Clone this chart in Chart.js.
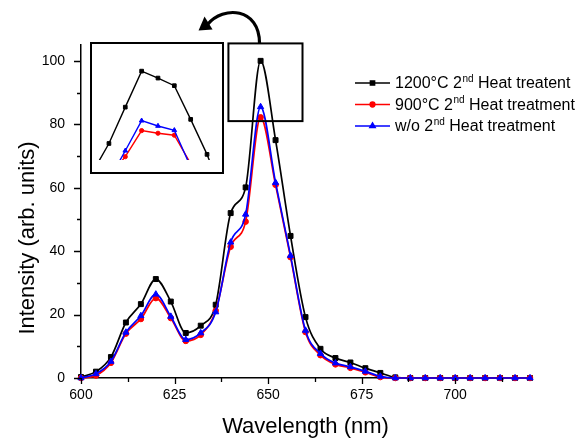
<!DOCTYPE html>
<html>
<head>
<meta charset="utf-8">
<script src="https://cdn.jsdelivr.net/npm/chart.js@4.4.1/dist/chart.umd.min.js"></script>
<style>
  html, body { margin: 0; padding: 0; background: #fff; }
  #wrap { position: relative; width: 576px; height: 439px; }
  #main { position: absolute; left: 0; top: 0; }
  #inset-box {
    position: absolute; left: 90px; top: 42px; width: 134px; height: 132px;
    border: 2px solid #000; box-sizing: border-box; background: #fff;
  }
  #inset { position: absolute; left: 0; top: 0; }
</style>
</head>
<body>
<div id="wrap">
  <canvas id="main" width="576" height="439"></canvas>
  <div id="inset-box"><canvas id="inset" width="130" height="121"></canvas></div>
</div>
<script>
// wavelengths (nm), one point every 4 nm
const wavelengths = [600, 604, 608, 612, 616, 620, 624, 628, 632, 636, 640, 644, 648, 652, 656,
                     660, 664, 668, 672, 676, 680, 684, 688, 692, 696, 700, 704, 708, 712, 716, 720];
const heat1200 = [0.3, 2.0, 6.6, 17.5, 23.3, 31.2, 24.1, 14.2, 16.5, 23.1, 52.0, 60.1, 100.0, 75.0, 44.8,
                  19.2, 9.2, 6.3, 4.9, 3.1, 1.6, 0.2, 0, 0, 0, 0, 0, 0, 0, 0, 0];
const heat900 = [0, 0.8, 4.8, 14.0, 18.6, 25.2, 18.9, 11.7, 13.6, 21.2, 41.4, 49.3, 82.2, 60.9, 38.1,
                 14.5, 7.2, 4.3, 3.2, 1.8, 0.3, 0, 0, 0, 0, 0, 0, 0, 0, 0, 0];
const noHeat = [0, 1.3, 5.2, 14.4, 19.6, 26.4, 19.4, 12.1, 14.2, 20.8, 42.8, 51.6, 85.5, 61.6, 38.6,
                15.0, 7.7, 4.7, 3.5, 2.1, 0.5, 0, 0, 0, 0, 0, 0, 0, 0, 0, 0];

// inset: magnified peak
const insetWavelengths = [644, 645, 646, 647, 648, 649, 650, 651, 652];
const inset1200 = [69.4, 78.1, 89.1, 100.0, 97.9, 95.6, 85.4, 74.8, 62.0];
const inset900 = [60.0, 68.0, 74.1, 82.0, 81.2, 80.6, 72.0, 61.0, 55.0];
const insetNoHeat = [58.0, 67.0, 75.9, 85.0, 83.4, 82.1, 71.0, 60.0, 54.0];

const xMajorTicks = [600, 625, 650, 675, 700];
const xMinorTicks = [612.5, 637.5, 662.5, 687.5, 712.5];
const yMajorTicks = [0, 20, 40, 60, 80, 100];
const yMinorTicks = [10, 30, 50, 70, 90];

const legendLabels = [
    ['1200\u00B0C 2', 'nd', ' Heat treatent'],
    ['900\u00B0C 2', 'nd', ' Heat treatment'],
    ['w/o 2', 'nd', ' Heat treatment']
];

// region of the main plot that the inset magnifies
const peakBox = { x0: 639.4, x1: 659.2, y0: 81, y1: 105.5 };

const FONT = '"Liberation Sans", Arial, sans-serif';

function pairs(xs, ys) {
    return xs.map((v, i) => ({ x: v, y: ys[i] }));
}

function seriesStyle(color, style, radius, width) {
    return {
        borderColor: color,
        backgroundColor: color,
        pointBackgroundColor: color,
        pointBorderColor: color,
        pointStyle: style,
        pointRadius: radius,
        pointBorderWidth: 1,
        borderWidth: width
    };
}

const decorations = {
    id: 'decorations',
    afterDraw(chart) {
        const { ctx, scales: { x, y }, chartArea } = chart;
        ctx.save();
        ctx.strokeStyle = '#000';
        ctx.fillStyle = '#000';

        // tick marks (outside the axes)
        ctx.lineWidth = 1.3;
        ctx.beginPath();
        xMajorTicks.concat(xMinorTicks).forEach(v => {
            const px = Math.round(x.getPixelForValue(v)) + 0.5;
            const len = xMajorTicks.includes(v) ? 6 : 4;
            ctx.moveTo(px, chartArea.bottom);
            ctx.lineTo(px, chartArea.bottom + len);
        });
        yMajorTicks.concat(yMinorTicks).forEach(v => {
            const py = Math.round(y.getPixelForValue(v)) + 0.5;
            const len = yMajorTicks.includes(v) ? 7 : 4;
            ctx.moveTo(chartArea.left, py);
            ctx.lineTo(chartArea.left - len, py);
        });
        ctx.stroke();

        // box around the peak
        const bx0 = x.getPixelForValue(peakBox.x0), bx1 = x.getPixelForValue(peakBox.x1);
        const by0 = y.getPixelForValue(peakBox.y1), by1 = y.getPixelForValue(peakBox.y0);
        ctx.lineWidth = 2;
        ctx.strokeRect(bx0, by0, bx1 - bx0, by1 - by0);

        // curved arrow pointing at the inset
        const fx = bx0 + (bx1 - bx0) * 0.42;
        ctx.lineWidth = 3.2;
        ctx.beginPath();
        ctx.moveTo(fx, by0);
        ctx.bezierCurveTo(fx, by0 - 36, fx - 36, by0 - 38, fx - 52, by0 - 19);
        ctx.stroke();
        ctx.beginPath();
        ctx.moveTo(fx - 61, by0 - 13);
        ctx.lineTo(fx - 55, by0 - 27);
        ctx.lineTo(fx - 47, by0 - 14);
        ctx.closePath();
        ctx.fill();

        // axis titles
        ctx.font = '22px ' + FONT;
        ctx.textAlign = 'center';
        ctx.textBaseline = 'middle';
        ctx.fillText('Wavelength (nm)', (chartArea.left + chartArea.right) / 2, 427);
        ctx.save();
        ctx.translate(28, 238);
        ctx.rotate(-Math.PI / 2);
        ctx.fillText('Intensity (arb. units)', 0, 0);
        ctx.restore();

        // legend with superscripts
        const rows = [83, 104.5, 126];
        [0, 1, 2].forEach((di, r) => {
            const ds = chart.data.datasets[di];
            const ly = rows[r];
            ctx.strokeStyle = ds.borderColor;
            ctx.fillStyle = ds.borderColor;
            ctx.lineWidth = 1.5;
            ctx.beginPath();
            ctx.moveTo(355, ly);
            ctx.lineTo(390, ly);
            ctx.stroke();
            Chart.helpers.drawPoint(ctx, {
                pointStyle: ds.pointStyle, radius: ds.pointRadius * 0.85, rotation: 0, borderWidth: 1
            }, 372.5, ly);
            const parts = legendLabels[di];
            ctx.fillStyle = '#000';
            ctx.textAlign = 'left';
            ctx.textBaseline = 'middle';
            let tx = 395;
            ctx.font = '16px ' + FONT;
            ctx.fillText(parts[0], tx, ly + 1);
            tx += ctx.measureText(parts[0]).width;
            ctx.font = '10px ' + FONT;
            ctx.fillText(parts[1], tx + 0.5, ly - 4);
            tx += ctx.measureText(parts[1]).width + 0.5;
            ctx.font = '16px ' + FONT;
            ctx.fillText(parts[2], tx, ly + 1);
        });
        ctx.restore();
    }
};

new Chart(document.getElementById('main').getContext('2d'), {
    type: 'line',
    data: {
        datasets: [
            Object.assign({ label: '1200C', data: pairs(wavelengths, heat1200), order: 2 },
                seriesStyle('#000000', 'rect', 3.5, 1.7)),
            Object.assign({ label: '900C', data: pairs(wavelengths, heat900), order: 1 },
                seriesStyle('#ff0000', 'circle', 2.8, 1.7)),
            Object.assign({ label: 'w/o', data: pairs(wavelengths, noHeat), order: 0 },
                seriesStyle('#0000ff', 'triangle', 3.6, 1.7))
        ]
    },
    options: {
        responsive: false,
        animation: false,
        clip: false,
        cubicInterpolationMode: 'monotone',
        layout: { padding: { top: 45, right: 46, left: 0, bottom: 0 } },
        plugins: { legend: { display: false }, tooltip: { enabled: false } },
        scales: {
            x: {
                type: 'linear',
                min: 600,
                max: 720,
                afterBuildTicks: s => { s.ticks = xMajorTicks.map(v => ({ value: v })); },
                afterFit: s => { s.height = 61; },
                grid: { display: false, drawTicks: true, tickLength: 6 },
                border: { display: true, color: '#000', width: 1.5 },
                ticks: { color: '#000', padding: 3, maxRotation: 0, font: { size: 14, family: FONT } }
            },
            y: {
                min: 0,
                max: 105,
                afterBuildTicks: s => { s.ticks = yMajorTicks.map(v => ({ value: v })); },
                afterFit: s => { s.width = 81; },
                grid: { display: false, drawTicks: true, tickLength: 7 },
                border: { display: true, color: '#000', width: 1.5 },
                ticks: { color: '#000', padding: 9, font: { size: 14, family: FONT } }
            }
        }
    },
    plugins: [decorations]
});

new Chart(document.getElementById('inset').getContext('2d'), {
    type: 'line',
    data: {
        datasets: [
            Object.assign({ data: pairs(insetWavelengths, inset1200), order: 2 },
                seriesStyle('#000000', 'rect', 2.6, 1.4)),
            Object.assign({ data: pairs(insetWavelengths, inset900), order: 1 },
                seriesStyle('#ff0000', 'circle', 2.1, 1.4)),
            Object.assign({ data: pairs(insetWavelengths, insetNoHeat), order: 0 },
                seriesStyle('#0000ff', 'triangle', 2.7, 1.4))
        ]
    },
    options: {
        responsive: false,
        animation: false,
        layout: { padding: 0 },
        plugins: { legend: { display: false }, tooltip: { enabled: false } },
        scales: {
            x: { type: 'linear', display: false, min: 644.27, max: 651.61 },
            y: { display: false, min: 73.1, max: 106.7 }
        }
    }
});
</script>
</body>
</html>
